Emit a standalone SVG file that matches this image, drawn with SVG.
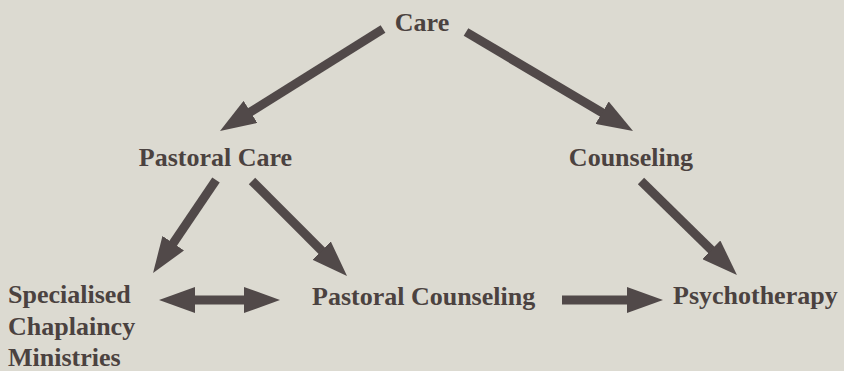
<svg xmlns="http://www.w3.org/2000/svg" width="844" height="371" viewBox="0 0 844 371">
  <style>
    .lbl { font-family: "Liberation Serif", "Times New Roman", serif; font-weight: bold; font-size: 26px; fill: #4b4240; }
    .arr { stroke: #514949; stroke-width: 9; fill: none; stroke-linecap: butt; }
  </style>
  <defs>
    <marker id="head" markerUnits="userSpaceOnUse" markerWidth="36" markerHeight="26" refX="4" refY="13" orient="auto-start-reverse" viewBox="0 0 36 26">
      <path d="M0,0 L36,13 L0,26 Z" fill="#514949"/>
    </marker>
  </defs>
  <rect x="0" y="0" width="844" height="371" fill="#dcdad1"/>

  <g id="connectors">
    <line class="arr" x1="383" y1="29" x2="247.1" y2="114" marker-end="url(#head)"/>
    <line class="arr" x1="466" y1="32" x2="605.5" y2="114.7" marker-end="url(#head)"/>
    <line class="arr" x1="216" y1="180" x2="171" y2="246.5" marker-end="url(#head)"/>
    <line class="arr" x1="252" y1="181" x2="324.4" y2="253.4" marker-end="url(#head)"/>
    <line class="arr" x1="641" y1="181" x2="714.1" y2="252.6" marker-end="url(#head)"/>
    <line class="arr" x1="191" y1="300" x2="248" y2="300" marker-start="url(#head)" marker-end="url(#head)"/>
    <line class="arr" x1="562" y1="300" x2="631" y2="300" marker-end="url(#head)"/>
  </g>

  <g id="care"><text class="lbl" x="422" y="31" text-anchor="middle">Care</text></g>
  <g id="pastoral-care"><text class="lbl" x="215.5" y="166" text-anchor="middle">Pastoral Care</text></g>
  <g id="counseling"><text class="lbl" x="631" y="166" text-anchor="middle">Counseling</text></g>
  <g id="specialised">
    <text class="lbl" x="8" y="303">Specialised</text>
    <text class="lbl" x="8" y="335">Chaplaincy</text>
    <text class="lbl" x="8" y="366">Ministries</text>
  </g>
  <g id="pastoral-counseling"><text class="lbl" x="312" y="305">Pastoral Counseling</text></g>
  <g id="psychotherapy"><text class="lbl" x="673" y="304">Psychotherapy</text></g>
</svg>
